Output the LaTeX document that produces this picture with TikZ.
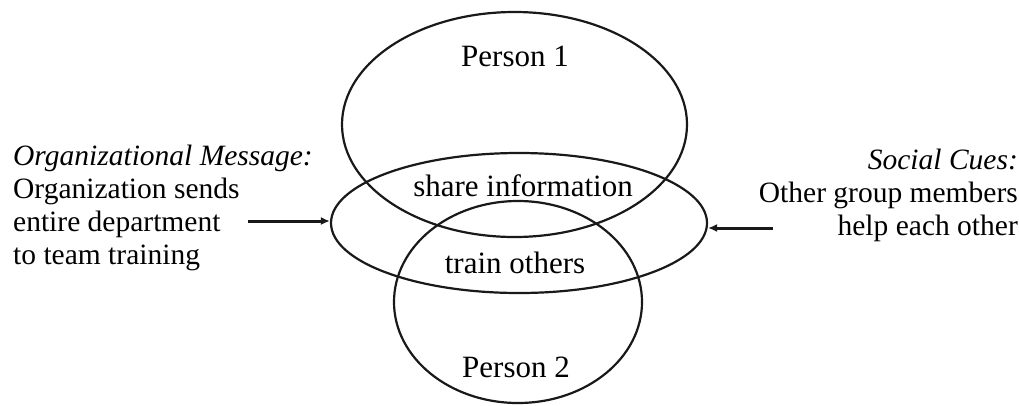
\documentclass[tikz,border=0pt]{standalone}
\usepackage{fontspec}
\setmainfont{Liberation Serif}
\usetikzlibrary{shapes.geometric,arrows.meta}
\tikzset{
  ell/.style={draw=black!90, line width=2.2pt, ellipse, inner sep=0pt},
  inlabel/.style={anchor=base, inner sep=0pt, font=\fontsize{31}{34}\selectfont, text=black},
  sidel/.style={anchor=base west, inner sep=0pt, font=\fontsize{29.5}{33}\selectfont, text=black},
  sider/.style={anchor=base east, inner sep=0pt, font=\fontsize{29.5}{33}\selectfont, text=black},
  arr/.style={line width=3pt, draw=black!90, -{Latex[length=9pt,width=8pt]}}
}
\begin{document}
\begin{tikzpicture}[x=1pt,y=-1pt]
\useasboundingbox (0,0) rectangle (1019,405);
% ellipses
\node[ell, minimum width=345pt, minimum height=225pt] (p1) at (514.5,124.5) {};
\node[ell, minimum width=376pt, minimum height=140pt] (mid) at (519,223) {};
\node[ell, minimum width=248pt, minimum height=202pt] (p2) at (518,302) {};
% inner labels
\node[inlabel] (l1) at (515,66) {Person 1};
\node[inlabel] (l2) at (523,196) {share information};
\node[inlabel] (l3) at (515,273) {train others};
\node[inlabel] (l4) at (516,377) {Person 2};
% left text
\node[sidel] (a1) at (13,165) {\itshape Organizational Message:};
\node[sidel] (a2) at (13,198) {Organization sends};
\node[sidel] (a3) at (13,231) {entire department};
\node[sidel] (a4) at (13,264) {to team training};
% right text
\node[sider] (b1) at (1018,169) {\itshape Social Cues:};
\node[sider] (b2) at (1018,202) {Other group members};
\node[sider] (b3) at (1018,235) {help each other};
% arrows
\coordinate (la) at (248,221);
\coordinate (ra) at (773,228);
\draw[arr] (la) -- (la -| mid.west);
\draw[arr] (ra) -- (ra -| mid.east);
\end{tikzpicture}
\end{document}
